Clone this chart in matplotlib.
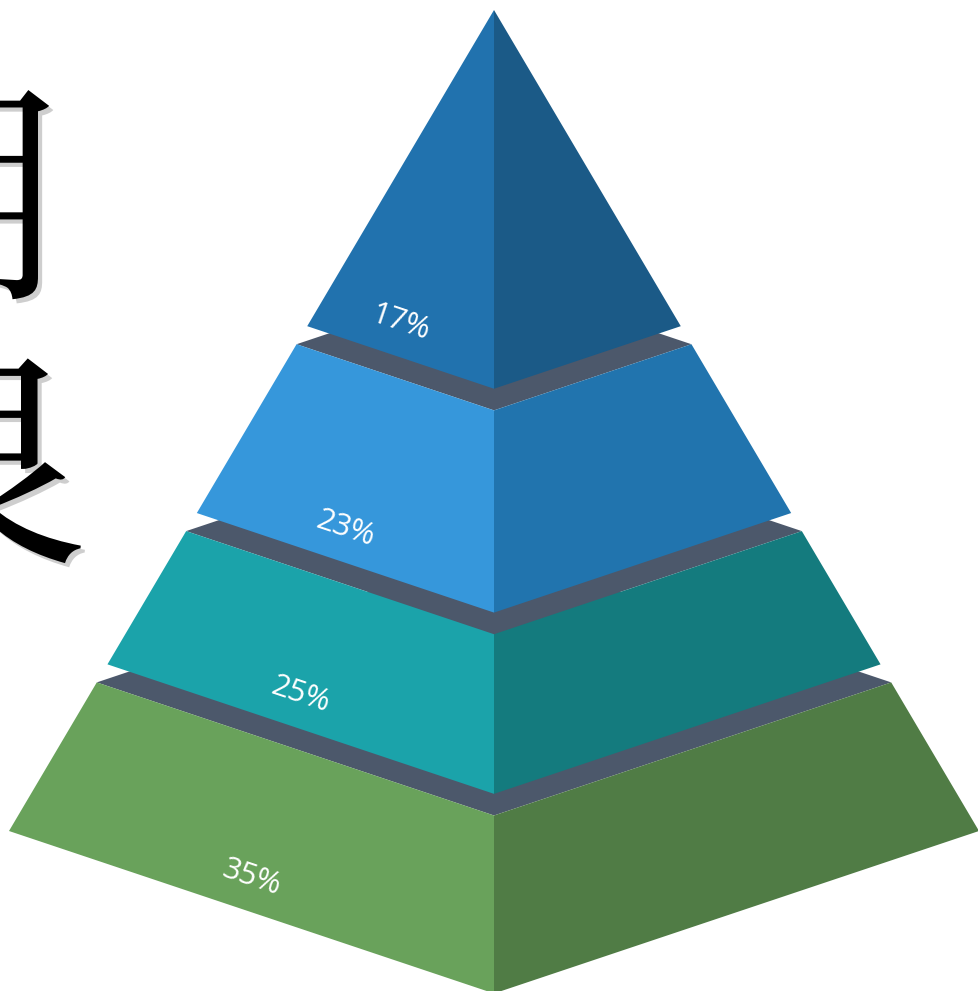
import numpy as np
import matplotlib.pyplot as plt
from matplotlib.patches import Polygon
import matplotlib.patheffects as pe

# tiers listed from the apex down
values = [17, 23, 25, 35]
labels = ['17%', '23%', '25%', '35%']
left_colors = ['#2172ae', '#3697db', '#1ba3aa', '#69a25b']
right_colors = ['#1b5a87', '#2174ae', '#147b7e', '#507c45']
ledge_color = '#4c586b'
side_chars = ['用', '良']

W, H = 979, 991
cx, apex_y = 494, 10
half_base = 485      # half width of the base
slant = 821          # apex to the side corners of the base
k = 0.335            # how flat the diamond of each level is
g = 0.022            # spacing between tiers along the slant

# tier boundaries: silhouette area of each tier follows its value
cum = np.cumsum(values) / np.sum(values)
s = np.concatenate([[0.0], np.sqrt(cum)])
n = len(values)
scale = 1 - (n - 1) * g

fig = plt.figure(figsize=(9.79, 9.91), dpi=100)
ax = fig.add_axes([0, 0, 1, 1])
ax.set_xlim(0, W)
ax.set_ylim(H, 0)
ax.axis('off')


def level(tt):
    return half_base * tt, apex_y + slant * tt


angle = -np.degrees(np.arctan(k))

for i in reversed(range(n)):
    t0 = s[i] * scale + i * g
    t1 = s[i + 1] * scale + i * g
    hw0, y0 = level(t0)
    hw1, y1 = level(t1)
    z = 10 - i
    if i > 0:
        ax.add_patch(Polygon([(cx - hw0, y0), (cx, y0 - k * hw0),
                              (cx + hw0, y0), (cx, y0 + k * hw0)],
                             closed=True, fc=ledge_color, ec='none', zorder=z))
    ax.add_patch(Polygon([(cx - hw0, y0), (cx, y0 + k * hw0),
                          (cx, y1 + k * hw1), (cx - hw1, y1)],
                         closed=True, fc=left_colors[i], ec='none', zorder=z))
    ax.add_patch(Polygon([(cx, y0 + k * hw0), (cx + hw0, y0),
                          (cx + hw1, y1), (cx, y1 + k * hw1)],
                         closed=True, fc=right_colors[i], ec='none', zorder=z))
    lx = cx - hw1 * 0.5
    ly = y1 + k * hw1 * 0.5 - 34
    ax.text(lx, ly, labels[i], color='white', fontsize=22, family='Open Sans',
            rotation=angle, rotation_mode='anchor', ha='center', va='center',
            zorder=20)

shadow = [pe.withSimplePatchShadow(offset=(3, -3), shadow_rgbFace='0.45', alpha=0.35)]
ax.text(-47, 217, side_chars[0], fontsize=170, family='Noto Serif CJK JP',
        fontweight='normal', ha='center', va='center', path_effects=shadow)
ax.text(-36, 476, side_chars[1], fontsize=180, family='Noto Serif CJK JP',
        fontweight='normal', ha='center', va='center', path_effects=shadow)

fig.savefig('out.png', dpi=100, facecolor='white')
